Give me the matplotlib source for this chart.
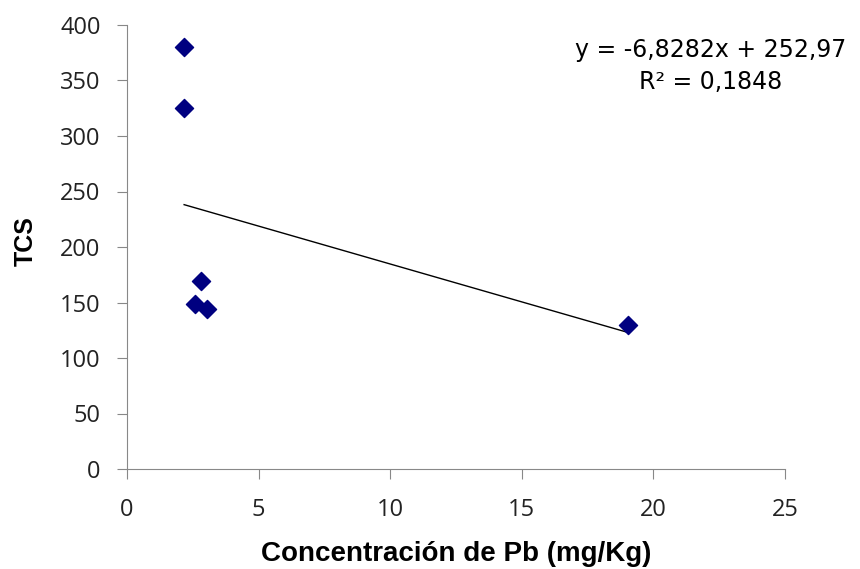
import matplotlib
matplotlib.use("Agg")
import matplotlib.pyplot as plt
import numpy as np

# datos
concentracion_pb = [2.17, 2.17, 2.81, 2.58, 3.04, 19.04]
tcs = [380, 325, 169, 149, 144, 130]
pendiente = -6.8282
intercepto = 252.97
r2_texto = "R² = 0,1848"
ec_texto = "y = -6,8282x + 252,97"
x_ticks = [0, 5, 10, 15, 20, 25]
y_ticks = [0, 50, 100, 150, 200, 250, 300, 350, 400]

fig = plt.figure(figsize=(8.6, 5.69), dpi=100)
ax = fig.add_axes([127 / 860, 100 / 569, 658 / 860, 444 / 569])

ax.scatter(concentracion_pb, tcs, marker='D', s=85, color='#000080', zorder=3)

# linea de tendencia entre el minimo y maximo x
xs = np.array([min(concentracion_pb), max(concentracion_pb)])
ax.plot(xs, pendiente * xs + intercepto, color='black', linewidth=1)

ax.set_xlim(0, 25)
ax.set_ylim(0, 400)
ax.set_xticks(x_ticks)
ax.set_yticks(y_ticks)

for lado in ['top', 'right']:
    ax.spines[lado].set_visible(False)
for lado in ['left', 'bottom']:
    ax.spines[lado].set_color('#888888')
ax.tick_params(axis='both', colors='#888888', length=7, labelcolor='#222222')
ax.tick_params(axis='y', pad=12)
ax.tick_params(axis='x', pad=14)
for lbl in ax.get_yticklabels() + ax.get_xticklabels():
    lbl.set_family(['Open Sans', 'DejaVu Sans'])
    lbl.set_fontsize(17)

fig.text(456 / 860, 1 - 554 / 569, 'Concentración de Pb (mg/Kg)', fontsize=20,
         fontweight='bold', family=['Liberation Sans', 'DejaVu Sans'],
         ha='center', va='center')
fig.text(26 / 860, 1 - 241 / 569, 'TCS', fontsize=18, fontweight='bold', rotation=90,
         family=['Liberation Sans', 'DejaVu Sans'], ha='center', va='center')

fig.text(711 / 860, 1 - 66 / 569, ec_texto + "\n" + r2_texto, ha='center', va='center',
         fontsize=17, multialignment='center', family=['DejaVu Sans'], linespacing=1.4)

fig.savefig('out.png', dpi=100)
